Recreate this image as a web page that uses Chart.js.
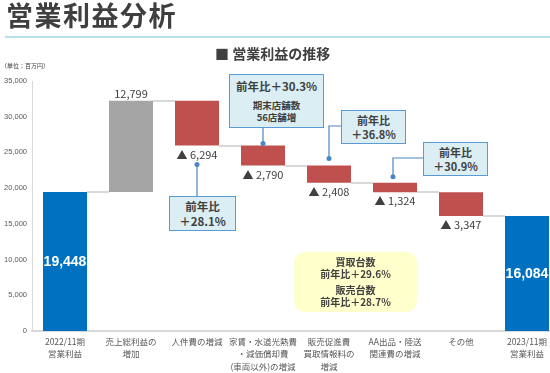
<!DOCTYPE html>
<html lang="ja">
<head>
<meta charset="utf-8">
<script src="https://cdn.jsdelivr.net/npm/chart.js@4.4.1/dist/chart.umd.min.js"></script>
<style>
  html, body { margin: 0; padding: 0; background: #fff; }
  body { width: 550px; height: 373px; position: relative; overflow: hidden; font-family: 'Noto Sans CJK JP', sans-serif; color: #404040; }
  #chart { position: absolute; left: 0; top: 0; }
  .abs { position: absolute; }
  #title { left: 6px; top: 1px; font-size: 27px; line-height: 28px; font-weight: bold; color: #3f3f3f; letter-spacing: 1.5px; }
  #rule { left: 5px; top: 36px; width: 545px; height: 2px; background: #b9dfeb; }
  #sub { left: 215px; top: 44px; font-size: 14px; line-height: 18px; font-weight: bold; color: #3f3f3f; }
  #unit { left: 1px; top: 62px; font-size: 6px; line-height: 7px; color: #404040; }
  .call { position: absolute; box-sizing: border-box; border: 1.5px solid #5b9bd5; background: #daeef3; text-align: center; font-weight: bold; color: #404040; }
  .note { position: absolute; box-sizing: border-box; background: #ffffcc; border-radius: 11px; text-align: center; font-weight: bold; color: #404040; }
</style>
</head>
<body>
<canvas id="chart" width="562" height="373"></canvas>
<div id="title" class="abs">営業利益分析</div>
<div id="rule" class="abs"></div>
<div id="sub" class="abs">■ 営業利益の推移</div>
<div id="unit" class="abs">（単位：百万円）</div>

<div class="call" style="left:229px;top:74px;width:95px;height:54px;">
  <div style="font-size:11.5px;line-height:14px;margin-top:4px;">前年比＋30.3%</div>
  <div style="font-size:9.5px;line-height:12px;margin-top:6px;">期末店舗数<br>56店舗増</div>
</div>
<div class="call" style="left:169px;top:196px;width:67px;height:35px;font-size:11.5px;line-height:15px;padding-top:2px;">前年比<br>＋28.1%</div>
<div class="call" style="left:341px;top:110px;width:65px;height:34px;font-size:11px;line-height:14px;padding-top:2px;">前年比<br>＋36.8%</div>
<div class="call" style="left:423px;top:142px;width:65px;height:34px;font-size:11px;line-height:14px;padding-top:2px;">前年比<br>＋30.9%</div>
<div class="note" style="left:294px;top:252px;width:123px;height:60px;font-size:10px;line-height:12px;padding-top:4px;">
  買取台数<br>前年比＋29.6%
  <div style="margin-top:4px;">販売台数<br>前年比＋28.7%</div>
</div>

<script>
const categories = [
  ['2022/11期', '営業利益'],
  ['売上総利益の', '増加'],
  ['人件費の増減'],
  ['家賃・水道光熱費', '・減価償却費', '(車両以外)の増減'],
  ['販売促進費', '買取情報料の', '増減'],
  ['AA出品・陸送', '関連費の増減'],
  ['その他'],
  ['2023/11期', '営業利益']
];
const startValue = 19448;
const deltas = [12799, -6294, -2790, -2408, -1324, -3347];
const endValue = 16084;
const yTicks = [0, 5000, 10000, 15000, 20000, 25000, 30000, 35000];

// 浮動棒のデータを作る
const floating = [[0, startValue]];
let run = startValue;
deltas.forEach(d => {
  floating.push([run, run + d]);
  run += d;
});
floating.push([0, endValue]);

const colors = floating.map((v, i) => {
  if (i === 0 || i === floating.length - 1) return '#0070c0';
  return deltas[i - 1] > 0 ? '#a5a5a5' : '#c0504d';
});

const FONT = "'Noto Sans CJK JP', sans-serif";

const waterfallPlugin = {
  id: 'waterfall',
  beforeDatasetsDraw(chart) {
    // 棒の間のつなぎ線
    const c = chart.ctx;
    const bars = chart.getDatasetMeta(0).data;
    const y = chart.scales.y;
    c.save();
    c.strokeStyle = '#d9d9d9';
    c.lineWidth = 2;
    for (let i = 0; i < bars.length - 1; i++) {
      const level = floating[i][1];
      const py = Math.round(y.getPixelForValue(level));
      c.beginPath();
      c.moveTo(bars[i].x + bars[i].width / 2, py);
      c.lineTo(bars[i + 1].x - bars[i + 1].width / 2, py);
      c.stroke();
    }
    c.restore();
  },
  afterDatasetsDraw(chart) {
    const c = chart.ctx;
    const bars = chart.getDatasetMeta(0).data;
    c.save();
    c.textAlign = 'center';
    c.textBaseline = 'middle';
    bars.forEach((b, i) => {
      const top = Math.min(b.y, b.base);
      const bottom = Math.max(b.y, b.base);
      if (i === 0 || i === bars.length - 1) {
        c.fillStyle = '#ffffff';
        c.font = "bold 14px 'Liberation Sans', sans-serif";
        c.fillText(floating[i][1].toLocaleString('en-US'), b.x, (top + bottom) / 2 + 1);
      } else if (deltas[i - 1] > 0) {
        c.fillStyle = '#404040';
        c.font = '11px ' + FONT;
        c.fillText(deltas[i - 1].toLocaleString('en-US'), b.x, top - 7);
      } else {
        c.fillStyle = '#404040';
        c.font = '11px ' + FONT;
        c.fillText('▲ ' + Math.abs(deltas[i - 1]).toLocaleString('en-US'), b.x, bottom + 9);
      }
    });

    // 吹き出しの引き出し線
    const lineCol = '#4a86c5';
    const dot = (x, yy) => { c.beginPath(); c.arc(x, yy, 2.5, 0, Math.PI * 2); c.fill(); };
    c.strokeStyle = lineCol;
    c.fillStyle = lineCol;
    c.lineWidth = 1.2;
    const b2 = bars[2], b3 = bars[3], b4 = bars[4], b5 = bars[5];
    const bot2 = Math.max(b2.y, b2.base);
    c.beginPath(); c.moveTo(b2.x, bot2 + 19); c.lineTo(b2.x, 196); c.stroke();
    dot(b2.x, bot2 + 19);
    const top3 = Math.min(b3.y, b3.base);
    c.beginPath(); c.moveTo(b3.x, 128); c.lineTo(b3.x, top3 - 2); c.stroke();
    dot(b3.x, top3 - 2);
    const top4 = Math.min(b4.y, b4.base);
    c.beginPath(); c.moveTo(341, 126); c.lineTo(b4.x, 126); c.lineTo(b4.x, top4 - 7); c.stroke();
    dot(b4.x, top4 - 7);
    const top5 = Math.min(b5.y, b5.base);
    c.beginPath(); c.moveTo(423, 158); c.lineTo(b5.x - 2, 158); c.lineTo(b5.x - 2, top5 - 6); c.stroke();
    dot(b5.x - 2, top5 - 6);
    c.restore();
  }
};

new Chart(document.getElementById('chart'), {
  type: 'bar',
  data: {
    labels: categories,
    datasets: [{
      data: floating,
      backgroundColor: colors,
      borderWidth: 0,
      barPercentage: 0.667,
      categoryPercentage: 1
    }]
  },
  options: {
    responsive: false,
    animation: false,
    layout: { padding: { top: 81, right: 2, left: 0, bottom: 0 } },
    plugins: { legend: { display: false }, tooltip: { enabled: false } },
    scales: {
      x: {
        grid: { display: false, drawTicks: false },
        border: { color: '#d9d9d9', width: 2 },
        ticks: { color: '#595959', font: { size: 8.5, family: FONT, lineHeight: 1.5 }, padding: 4, maxRotation: 0, autoSkip: false },
        afterFit(s) { s.height = 42; }
      },
      y: {
        min: 0,
        max: 35000,
        afterBuildTicks(s) { s.ticks = yTicks.map(v => ({ value: v })); },
        grid: { display: false, drawTicks: false },
        border: { color: '#d9d9d9', width: 1 },
        ticks: { color: '#595959', font: { size: 7.5, family: "'Liberation Sans', sans-serif" }, padding: 5, callback: v => v.toLocaleString('en-US') },
        afterFit(s) { s.width = 32; }
      }
    }
  },
  plugins: [waterfallPlugin]
});
</script>
</body>
</html>
